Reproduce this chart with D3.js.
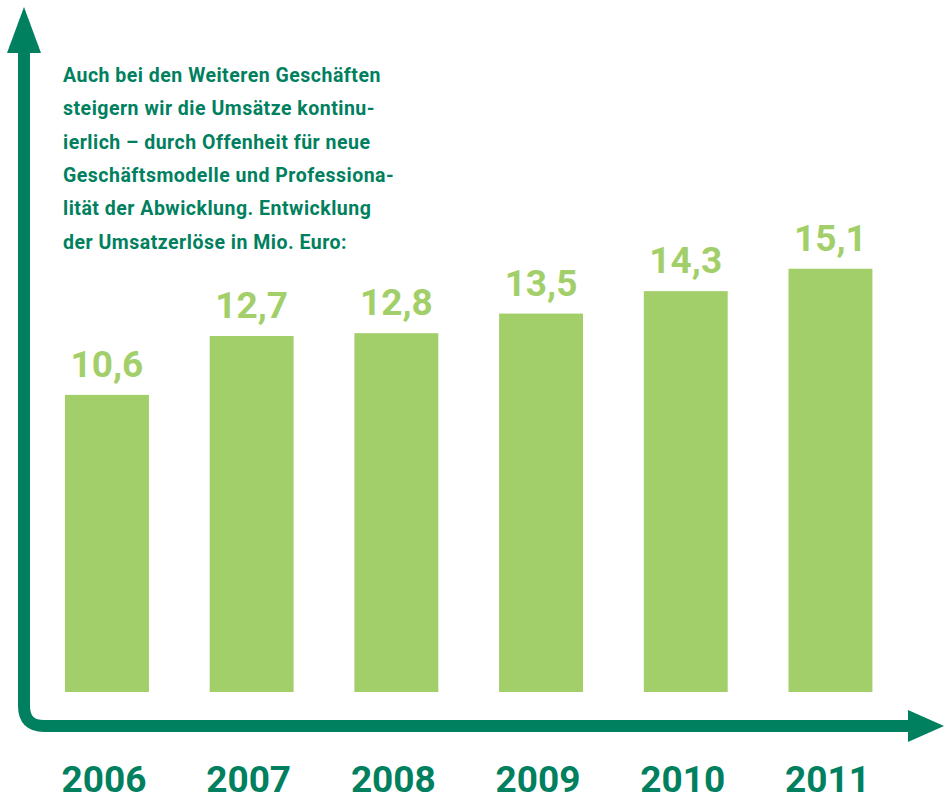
<!DOCTYPE html>
<html>
<head>
<meta charset="utf-8">
<script src="https://cdn.jsdelivr.net/npm/d3@7"></script>
<style>
  html, body { margin: 0; padding: 0; background: #ffffff; }
  svg { display: block; }
  text { font-family: Roboto, "Liberation Sans", sans-serif; font-weight: 700; }
</style>
</head>
<body>
<svg id="chart" width="944" height="801"></svg>
<script>
// Umsatzerlöse der Weiteren Geschäfte, Mio. Euro
const years = ["2006", "2007", "2008", "2009", "2010", "2011"];
const revenue = [10.6, 12.7, 12.8, 13.5, 14.3, 15.1];
const valueLabels = ["10,6", "12,7", "12,8", "13,5", "14,3", "15,1"];
const introLines = [
  "Auch bei den Weiteren Geschäften",
  "steigern wir die Umsätze kontinu-",
  "ierlich – durch Offenheit für neue",
  "Geschäftsmodelle und Professiona-",
  "lität der Abwicklung. Entwicklung",
  "der Umsatzerlöse in Mio. Euro:"
];

const darkGreen = "#00805e";
const barGreen = "#a3cf6a";

const svg = d3.select("#chart");

const x = d3.scaleBand()
  .domain(years)
  .range([34.6, 902.8])
  .paddingInner(0.42)
  .paddingOuter(0.21);

const y = d3.scaleLinear()
  .domain([0, 16])
  .range([692, 243.5]);

// Axis frame: vertical and horizontal arrows joined by a rounded corner
const axisX = 24, axisY = 726, r = 20;
svg.append("path")
  .attr("d", `M${axisX},48 L${axisX},${axisY - r} Q${axisX},${axisY} ${axisX + r},${axisY} L912,${axisY}`)
  .attr("fill", "none")
  .attr("stroke", darkGreen)
  .attr("stroke-width", 12);

svg.append("path")
  .attr("d", `M${axisX},7 L${axisX + 17},53 L${axisX - 17},53 Z`)
  .attr("fill", darkGreen);

svg.append("path")
  .attr("d", `M944,${axisY} L908,${axisY - 16} L908,${axisY + 16} Z`)
  .attr("fill", darkGreen);

// Bars
svg.selectAll("rect.bar")
  .data(revenue)
  .join("rect")
  .attr("class", "bar")
  .attr("x", (d, i) => x(years[i]))
  .attr("y", d => y(d))
  .attr("width", x.bandwidth())
  .attr("height", d => y(0) - y(d))
  .attr("fill", barGreen);

// Value labels above bars
svg.selectAll("text.value")
  .data(revenue)
  .join("text")
  .attr("class", "value")
  .attr("x", (d, i) => x(years[i]) + x.bandwidth() / 2)
  .attr("y", d => y(d) - 18)
  .attr("text-anchor", "middle")
  .attr("font-size", 37)
  .attr("fill", barGreen)
  .text((d, i) => valueLabels[i]);

// Year labels below the axis
svg.selectAll("text.year")
  .data(years)
  .join("text")
  .attr("class", "year")
  .attr("x", d => x(d) + x.bandwidth() / 2 - 3)
  .attr("y", 792)
  .attr("text-anchor", "middle")
  .attr("font-size", 37)
  .attr("fill", darkGreen)
  .text(d => d);

// Introductory text block
svg.append("g")
  .selectAll("text")
  .data(introLines)
  .join("text")
  .attr("x", 63)
  .attr("y", (d, i) => 82 + i * 33.3)
  .attr("font-size", 19.5)
  .attr("letter-spacing", 0.5)
  .attr("fill", darkGreen)
  .text(d => d);
</script>
</body>
</html>
